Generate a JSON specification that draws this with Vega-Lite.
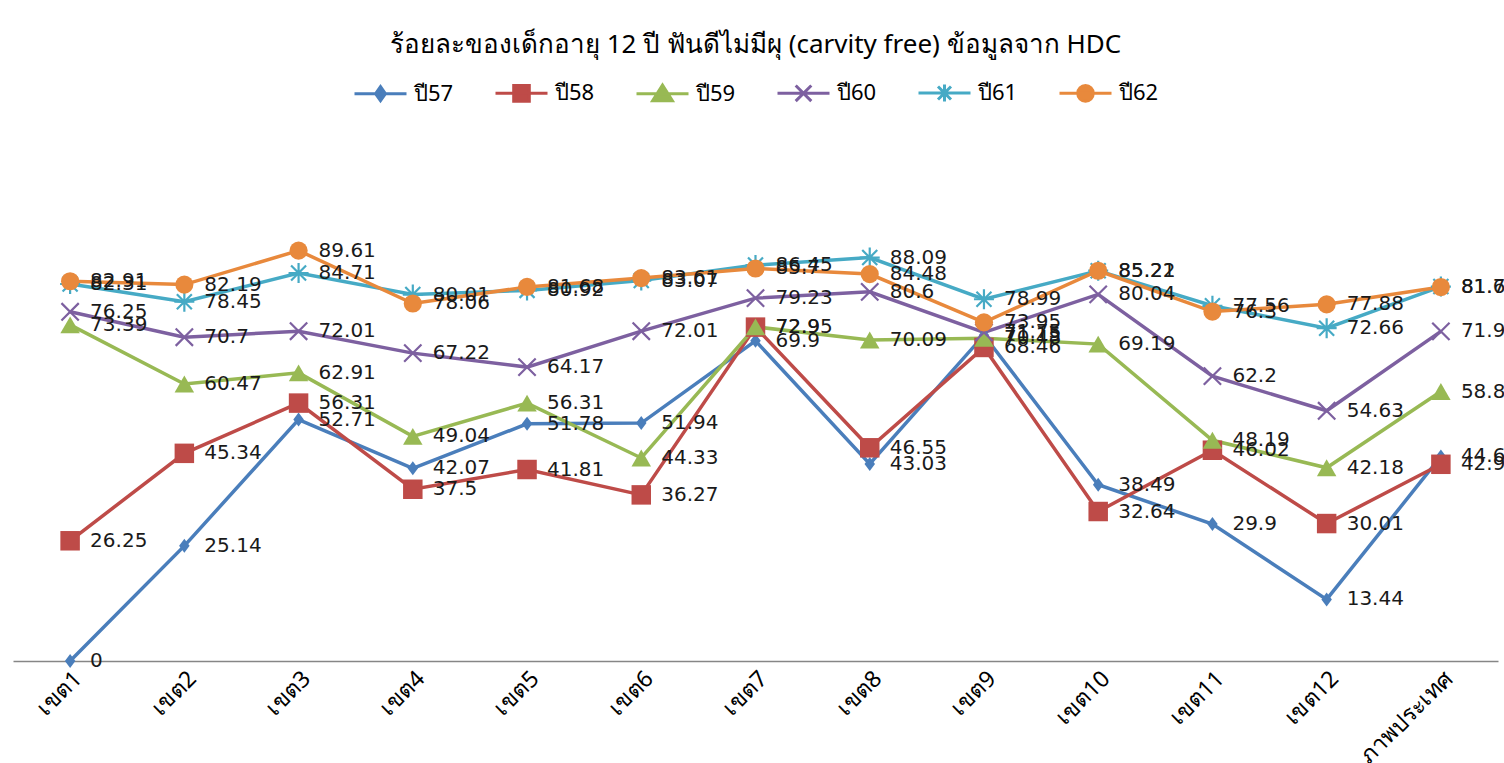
{
  "$schema": "https://vega.github.io/schema/vega-lite/v6.json",
  "width": 1485,
  "height": 458,
  "padding": {"top": 32, "left": 13, "right": 6, "bottom": 0},
  "background": "white",
  "title": {
    "text": "ร้อยละของเด็กอายุ 12 ปี ฟันดีไม่มีผุ (carvity free) ข้อมูลจาก HDC",
    "fontSize": 26,
    "fontWeight": "normal",
    "font": "Noto Sans",
    "color": "#000000",
    "anchor": "middle",
    "offset": 7
  },
  "config": {
    "view": {"stroke": null},
    "legend": {"layout": {"top": {"anchor": "middle"}}}
  },
  "data": {
    "values": [
      {"zone": "เขต1", "series": "ปี57", "value": 0},
      {"zone": "เขต2", "series": "ปี57", "value": 25.14},
      {"zone": "เขต3", "series": "ปี57", "value": 52.71},
      {"zone": "เขต4", "series": "ปี57", "value": 42.07},
      {"zone": "เขต5", "series": "ปี57", "value": 51.78},
      {"zone": "เขต6", "series": "ปี57", "value": 51.94},
      {"zone": "เขต7", "series": "ปี57", "value": 69.9},
      {"zone": "เขต8", "series": "ปี57", "value": 43.03},
      {"zone": "เขต9", "series": "ปี57", "value": 71.15},
      {"zone": "เขต10", "series": "ปี57", "value": 38.49},
      {"zone": "เขต11", "series": "ปี57", "value": 29.9},
      {"zone": "เขต12", "series": "ปี57", "value": 13.44},
      {"zone": "ภาพประเทศ", "series": "ปี57", "value": 44.66},
      {"zone": "เขต1", "series": "ปี58", "value": 26.25},
      {"zone": "เขต2", "series": "ปี58", "value": 45.34},
      {"zone": "เขต3", "series": "ปี58", "value": 56.31},
      {"zone": "เขต4", "series": "ปี58", "value": 37.5},
      {"zone": "เขต5", "series": "ปี58", "value": 41.81},
      {"zone": "เขต6", "series": "ปี58", "value": 36.27},
      {"zone": "เขต7", "series": "ปี58", "value": 72.9},
      {"zone": "เขต8", "series": "ปี58", "value": 46.55},
      {"zone": "เขต9", "series": "ปี58", "value": 68.46},
      {"zone": "เขต10", "series": "ปี58", "value": 32.64},
      {"zone": "เขต11", "series": "ปี58", "value": 46.02},
      {"zone": "เขต12", "series": "ปี58", "value": 30.01},
      {"zone": "ภาพประเทศ", "series": "ปี58", "value": 42.95},
      {"zone": "เขต1", "series": "ปี59", "value": 73.39},
      {"zone": "เขต2", "series": "ปี59", "value": 60.47},
      {"zone": "เขต3", "series": "ปี59", "value": 62.91},
      {"zone": "เขต4", "series": "ปี59", "value": 49.04},
      {"zone": "เขต5", "series": "ปี59", "value": 56.31},
      {"zone": "เขต6", "series": "ปี59", "value": 44.33},
      {"zone": "เขต7", "series": "ปี59", "value": 72.95},
      {"zone": "เขต8", "series": "ปี59", "value": 70.09},
      {"zone": "เขต9", "series": "ปี59", "value": 70.48},
      {"zone": "เขต10", "series": "ปี59", "value": 69.19},
      {"zone": "เขต11", "series": "ปี59", "value": 48.19},
      {"zone": "เขต12", "series": "ปี59", "value": 42.18},
      {"zone": "ภาพประเทศ", "series": "ปี59", "value": 58.84},
      {"zone": "เขต1", "series": "ปี60", "value": 76.25},
      {"zone": "เขต2", "series": "ปี60", "value": 70.7},
      {"zone": "เขต3", "series": "ปี60", "value": 72.01},
      {"zone": "เขต4", "series": "ปี60", "value": 67.22},
      {"zone": "เขต5", "series": "ปี60", "value": 64.17},
      {"zone": "เขต6", "series": "ปี60", "value": 72.01},
      {"zone": "เขต7", "series": "ปี60", "value": 79.23},
      {"zone": "เขต8", "series": "ปี60", "value": 80.6},
      {"zone": "เขต9", "series": "ปี60", "value": 71.75},
      {"zone": "เขต10", "series": "ปี60", "value": 80.04},
      {"zone": "เขต11", "series": "ปี60", "value": 62.2},
      {"zone": "เขต12", "series": "ปี60", "value": 54.63},
      {"zone": "ภาพประเทศ", "series": "ปี60", "value": 71.98},
      {"zone": "เขต1", "series": "ปี61", "value": 82.31},
      {"zone": "เขต2", "series": "ปี61", "value": 78.45},
      {"zone": "เขต3", "series": "ปี61", "value": 84.71},
      {"zone": "เขต4", "series": "ปี61", "value": 80.01},
      {"zone": "เขต5", "series": "ปี61", "value": 80.92},
      {"zone": "เขต6", "series": "ปี61", "value": 83.07},
      {"zone": "เขต7", "series": "ปี61", "value": 86.45},
      {"zone": "เขต8", "series": "ปี61", "value": 88.09},
      {"zone": "เขต9", "series": "ปี61", "value": 78.99},
      {"zone": "เขต10", "series": "ปี61", "value": 85.22},
      {"zone": "เขต11", "series": "ปี61", "value": 77.56},
      {"zone": "เขต12", "series": "ปี61", "value": 72.66},
      {"zone": "ภาพประเทศ", "series": "ปี61", "value": 81.76},
      {"zone": "เขต1", "series": "ปี62", "value": 82.91},
      {"zone": "เขต2", "series": "ปี62", "value": 82.19},
      {"zone": "เขต3", "series": "ปี62", "value": 89.61},
      {"zone": "เขต4", "series": "ปี62", "value": 78.06},
      {"zone": "เขต5", "series": "ปี62", "value": 81.68},
      {"zone": "เขต6", "series": "ปี62", "value": 83.61},
      {"zone": "เขต7", "series": "ปี62", "value": 85.7},
      {"zone": "เขต8", "series": "ปี62", "value": 84.48},
      {"zone": "เขต9", "series": "ปี62", "value": 73.95},
      {"zone": "เขต10", "series": "ปี62", "value": 85.21},
      {"zone": "เขต11", "series": "ปี62", "value": 76.3},
      {"zone": "เขต12", "series": "ปี62", "value": 77.88},
      {"zone": "ภาพประเทศ", "series": "ปี62", "value": 81.65}
    ]
  },
  "encoding": {
    "x": {
      "field": "zone",
      "type": "nominal",
      "sort": ["เขต1","เขต2","เขต3","เขต4","เขต5","เขต6","เขต7","เขต8","เขต9","เขต10","เขต11","เขต12","ภาพประเทศ"],
      "scale": {"type": "point", "padding": 0.5},
      "axis": {
        "title": null,
        "labelAngle": -45,
        "labelAlign": "right",
        "labelBaseline": "top",
        "labelFontSize": 23,
        "labelFont": "Noto Sans",
        "labelColor": "#000000",
        "labelPadding": 6,
        "ticks": false,
        "domainColor": "#868686",
        "domainWidth": 1.5,
        "grid": false
      }
    },
    "y": {
      "field": "value",
      "type": "quantitative",
      "scale": {"domain": [0, 100]},
      "axis": null
    },
    "color": {
      "field": "series",
      "type": "nominal",
      "scale": {
        "domain": ["ปี57","ปี58","ปี59","ปี60","ปี61","ปี62"],
        "range": ["#4A7EBB","#BE4B48","#98B954","#7D60A0","#46AAC5","#E8893C"]
      },
      "legend": {
        "orient": "top",
        "direction": "horizontal",
        "title": null,
        "offset": 95,
        "labelFontSize": 22,
        "labelFont": "Noto Sans",
        "labelColor": "#000000",
        "labelOffset": 6,
        "columnPadding": 35,
        "symbolSize": 2704,
        "symbolStrokeWidth": 3,
        "encode": {
          "symbols": {
            "update": {
              "shape": {"signal": "datum.value === 'ปี57' ? 'M-1,0L1,0M0,-0.27L0.19,0L0,0.27L-0.19,0Z' : datum.value === 'ปี58' ? 'M-1,0L1,0M-0.3,-0.3L0.3,-0.3L0.3,0.3L-0.3,0.3Z' : datum.value === 'ปี59' ? 'M-1,0L1,0M0,-0.33L0.38,0.27L-0.38,0.27Z' : datum.value === 'ปี60' ? 'M-1,0L1,0M-0.3,-0.3L0.3,0.3M-0.3,0.3L0.3,-0.3' : datum.value === 'ปี61' ? 'M-1,0L1,0M0,-0.33L0,0.33M-0.25,-0.25L0.25,0.25M-0.25,0.25L0.25,-0.25' : 'M-1,0L1,0M-0.3,0A0.3,0.3 0 1,0 0.3,0A0.3,0.3 0 1,0 -0.3,0Z'"},
              "fill": {"scale": "color", "field": "value"},
              "stroke": {"scale": "color", "field": "value"},
              "strokeWidth": {"value": 3}
            }
          }
        }
      }
    }
  },
  "layer": [
    {
      "mark": {"type": "line", "strokeWidth": 3.5}
    },
    {
      "transform": [{"filter": "datum.series === 'ปี57'"}],
      "mark": {"type": "point", "filled": true, "opacity": 1, "shape": "M0,-1L0.75,0L0,1L-0.75,0Z", "size": 196}
    },
    {
      "transform": [{"filter": "datum.series === 'ปี58'"}],
      "mark": {"type": "point", "filled": true, "opacity": 1, "shape": "square", "size": 380}
    },
    {
      "transform": [{"filter": "datum.series === 'ปี59'"}],
      "mark": {"type": "point", "filled": true, "opacity": 1, "shape": "triangle-up", "size": 380}
    },
    {
      "transform": [{"filter": "datum.series === 'ปี60'"}],
      "mark": {"type": "point", "filled": false, "opacity": 1, "strokeWidth": 2.2, "shape": "M-1,-1L1,1M-1,1L1,-1", "size": 300}
    },
    {
      "transform": [{"filter": "datum.series === 'ปี61'"}],
      "mark": {"type": "point", "filled": false, "opacity": 1, "strokeWidth": 2.2, "shape": "M-1,0L1,0M0,-1L0,1M-0.75,-0.75L0.75,0.75M-0.75,0.75L0.75,-0.75", "size": 400}
    },
    {
      "transform": [{"filter": "datum.series === 'ปี62'"}],
      "mark": {"type": "point", "filled": true, "opacity": 1, "shape": "circle", "size": 330}
    },
    {
      "mark": {"type": "text", "align": "left", "baseline": "middle", "dx": 20, "fontSize": 20, "font": "DejaVu Sans", "color": "#1a1a1a"},
      "encoding": {
        "text": {"field": "value", "type": "nominal"},
        "color": {"value": "#1a1a1a"}
      }
    }
  ]
}
